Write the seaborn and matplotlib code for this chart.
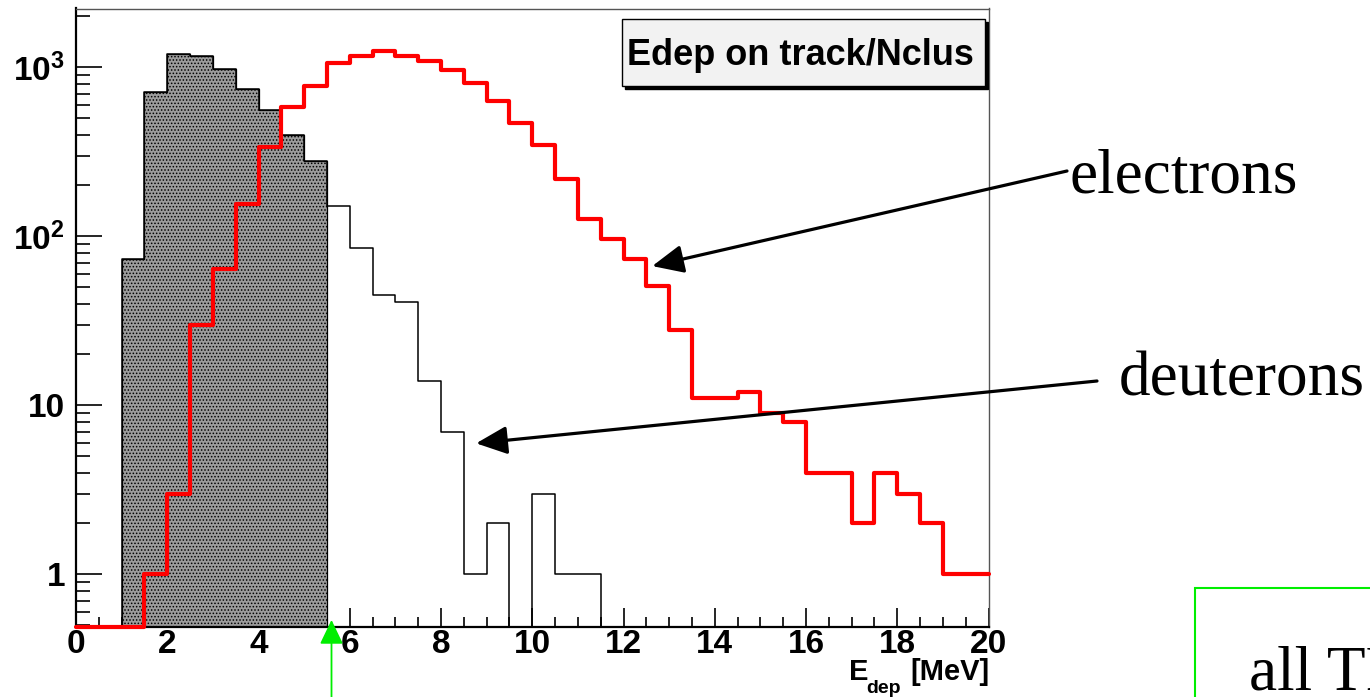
import numpy as np
import pandas as pd
import matplotlib
matplotlib.use("Agg")
import matplotlib.pyplot as plt
import seaborn as sns
from matplotlib.patches import Rectangle
from matplotlib.ticker import LogLocator, NullFormatter, MultipleLocator

# ---------------- data ----------------
bin_width = 0.5
x_min, x_max = 0.0, 20.0
deuterons = [0, 0, 73, 711, 1199, 1166, 973, 741, 559, 398,
             279, 152, 85, 45, 41, 14, 7, 1, 2, 0,
             3, 1, 1, 0, 0, 0, 0, 0, 0, 0,
             0, 0, 0, 0, 0, 0, 0, 0, 0, 0]
electrons = [0, 0, 0, 1, 3, 30, 64, 155, 339, 580,
             775, 1056, 1171, 1248, 1171, 1089, 964, 804, 631, 466,
             347, 218, 126, 97, 73, 51, 28, 11, 11, 12,
             9, 8, 4, 4, 2, 4, 3, 2, 1, 1]
cut_value = 5.6
x_ticks = [0, 2, 4, 6, 8, 10, 12, 14, 16, 18, 20]
y_ticks = [1, 10, 100, 1000]
y_tick_labels = ["1", "10", r"$\mathbf{10^{2}}$", r"$\mathbf{10^{3}}$"]
y_limits = (0.49, 2230)
title_text = "Edep on track/Nclus"
label_electrons = "electrons"
label_deuterons = "deuterons"
side_text = "all TRD"

# ---------------- style ----------------
sns.set_style("white")
plt.rcParams["font.family"] = ["Liberation Sans", "DejaVu Sans"]
plt.rcParams["font.weight"] = "bold"
plt.rcParams["text.color"] = "black"
plt.rcParams["axes.labelcolor"] = "black"
plt.rcParams["xtick.color"] = "black"
plt.rcParams["ytick.color"] = "black"
plt.rcParams["mathtext.fontset"] = "custom"
plt.rcParams["mathtext.bf"] = "Liberation Sans:bold"
plt.rcParams["mathtext.rm"] = "Liberation Sans:bold"
plt.rcParams["hatch.linewidth"] = 0.7

W, H = 1370, 697
fig = plt.figure(figsize=(W / 100, H / 100), dpi=100)
ax = fig.add_axes([76 / W, 1 - 626.7 / H, (988.5 - 76) / W, (626.7 - 8.5) / H])
ax.set_yscale("log")

edges = np.arange(x_min, x_max + bin_width / 2, bin_width)
centers = edges[:-1] + bin_width / 2
deut = np.array(deuterons, dtype=float)
elec = np.array(electrons, dtype=float)
floor = y_limits[0]
mask = edges[1:] <= cut_value

df = pd.DataFrame({
    "E": centers,
    "deut_cut": np.where(mask, deut, 0.0),
    "deut": np.maximum(deut, floor),
    "elec": np.maximum(elec, floor),
})
hist_kw = dict(data=df, x="E", binwidth=bin_width, binrange=(x_min, x_max),
               element="step", ax=ax)

# filled deuteron part (below cut)
sns.histplot(weights="deut_cut", fill=True, color="#9c9c9c", alpha=1,
             edgecolor="black", linewidth=0.9, hatch=".....", zorder=2, **hist_kw)
# deuteron outline
sns.histplot(weights="deut", fill=False, color="black", linewidth=1.1,
             zorder=3, **hist_kw)
# electrons
sns.histplot(weights="elec", fill=False, color="#ff0000", linewidth=3.0,
             zorder=4, clip_on=False, **hist_kw)

ax.set_xlim(x_min, x_max)
ax.set_ylim(*y_limits)
ax.set_xlabel("")
ax.set_ylabel("")

ax.set_xticks(x_ticks)
ax.set_xticklabels([str(t) for t in x_ticks])
ax.xaxis.set_minor_locator(MultipleLocator(bin_width))
ax.set_yticks(y_ticks, labels=y_tick_labels)
ax.yaxis.set_minor_locator(LogLocator(base=10, subs=np.arange(2, 10), numticks=20))
ax.yaxis.set_minor_formatter(NullFormatter())

ax.tick_params(axis="both", which="both", direction="in", top=False, right=False,
               bottom=True, left=True, width=1.2, colors="black", labelsize=24)
ax.tick_params(axis="x", which="major", length=14, pad=2)
ax.tick_params(axis="x", which="minor", length=7)
ax.tick_params(axis="y", which="major", length=19, pad=8)
ax.tick_params(axis="y", which="minor", length=10)

for s in ["left", "bottom"]:
    ax.spines[s].set_color("black")
    ax.spines[s].set_linewidth(1.6)
for s in ["top", "right"]:
    ax.spines[s].set_color("#555555")
    ax.spines[s].set_linewidth(1.0)

# title box with shadow
bx, by, bw, bh = 0.598, 0.875, 0.398, 0.108
ax.add_patch(Rectangle((bx + 0.0035, by - 0.005), bw, bh, transform=ax.transAxes,
                       facecolor="black", edgecolor="black", lw=1, zorder=6))
ax.add_patch(Rectangle((bx, by), bw, bh, transform=ax.transAxes,
                       facecolor="#f2f2f2", edgecolor="black", lw=1, zorder=7))
ax.text(0.794, 0.9086, title_text, transform=ax.transAxes, ha="center",
        va="baseline", fontsize=26, fontweight="bold", zorder=8)

# axis label
fig.text(849 / W, 1 - 680 / H, "E", fontsize=21, fontweight="bold", va="baseline", ha="left")
fig.text(866 / W, 1 - 693 / H, "dep", fontsize=14, fontweight="bold", va="baseline", ha="left")
fig.text(989 / W, 1 - 680 / H, "[MeV]", fontsize=21, fontweight="bold", va="baseline", ha="right")

# annotation arrows
arrow_style = dict(arrowstyle="-|>,head_length=1.9,head_width=0.86", color="black",
                   lw=2.3, shrinkA=0, shrinkB=0, mutation_scale=10)
ax.annotate("", xy=(12.63, 66.7), xycoords="data", xytext=(1067, H - 171),
            textcoords="figure pixels", arrowprops=arrow_style,
            annotation_clip=False, zorder=9)
ax.annotate("", xy=(8.77, 5.96), xycoords="data", xytext=(1097, H - 381),
            textcoords="figure pixels", arrowprops=arrow_style,
            annotation_clip=False, zorder=9)

serif = ["Liberation Serif", "DejaVu Serif"]
fig.text(1070 / W, 1 - 193 / H, label_electrons, fontsize=45.5, family=serif,
         fontweight="normal", va="baseline", ha="left")
fig.text(1119 / W, 1 - 396 / H, label_deuterons, fontsize=45.5, family=serif,
         fontweight="normal", va="baseline", ha="left")

# green cut arrow
ax.annotate("", xy=(cut_value, 0.011), xycoords=("data", "axes fraction"),
            xytext=(cut_value, -0.2), textcoords=("data", "axes fraction"),
            arrowprops=dict(arrowstyle="-|>,head_length=1.5,head_width=0.72",
                            color="#00ee00", lw=1.3, shrinkA=0, shrinkB=0,
                            mutation_scale=10),
            annotation_clip=False, zorder=9)

# green framed box at bottom right
fig.add_artist(Rectangle((1195 / W, -0.05), 0.2, (1 - 588 / H) + 0.05,
                         transform=fig.transFigure, fill=False,
                         edgecolor="#00ee00", lw=1.5))
fig.text(1249 / W, 1 - 690 / H, side_text, fontsize=45.5, family=serif,
         fontweight="normal", va="baseline", ha="left")

fig.savefig("out.png", dpi=100)
